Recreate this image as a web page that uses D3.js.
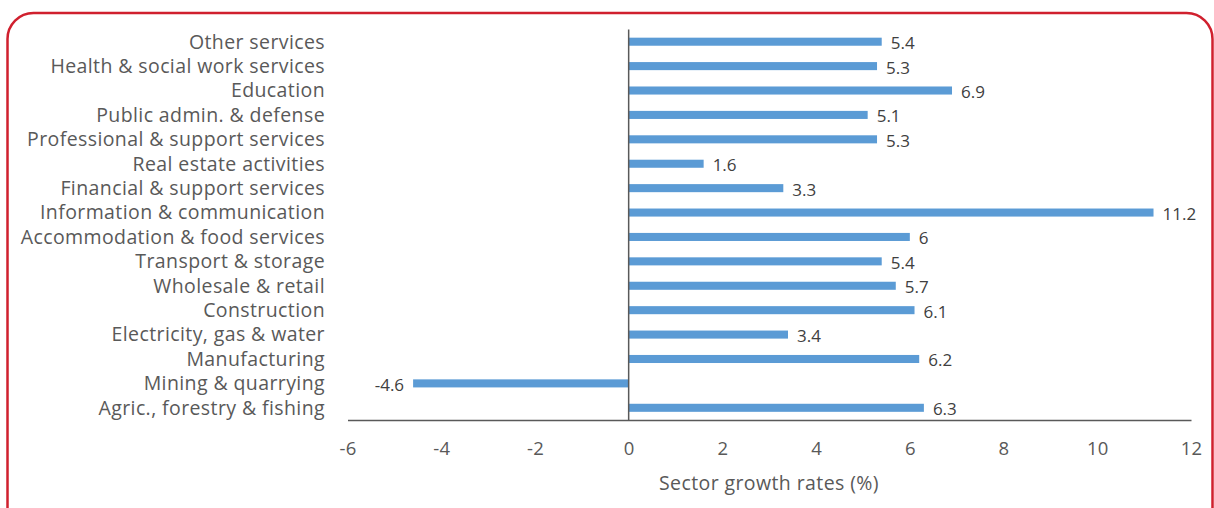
<!DOCTYPE html>
<html><head><meta charset="utf-8">
<script src="https://cdn.jsdelivr.net/npm/d3@7"></script>
<style>html,body{margin:0;padding:0;background:#fff;}svg{display:block;}</style>
</head><body>
<svg id="c" width="1214" height="508"></svg>
<script>
const categories = ["Other services","Health & social work services","Education","Public admin. & defense","Professional & support services","Real estate activities","Financial & support services","Information & communication","Accommodation & food services","Transport & storage","Wholesale & retail","Construction","Electricity, gas & water","Manufacturing","Mining & quarrying","Agric., forestry & fishing"];
const values = [5.4,5.3,6.9,5.1,5.3,1.6,3.3,11.2,6,5.4,5.7,6.1,3.4,6.2,-4.6,6.3];
const xTicks = [-6,-4,-2,0,2,4,6,8,10,12];
const xTitle = "Sector growth rates (%)";

const svg = d3.select("#c");
const font = "'Open Sans', sans-serif";
svg.append("rect").attr("x",7.5).attr("y",13).attr("width",1205).attr("height",520)
  .attr("rx",26).attr("ry",26).attr("fill","none").attr("stroke","#d0202e").attr("stroke-width",2.5);

const x = d3.scaleLinear().domain([-6,12]).range([347.5,1191]);
const y = d3.scaleBand().domain(categories).range([29.5,420]).paddingInner(0.67).paddingOuter(0.335);

const g = svg.append("g");
g.selectAll("rect.bar").data(categories).join("rect").attr("class","bar")
  .attr("x",(d,i)=>x(Math.min(0,values[i])))
  .attr("width",(d,i)=>Math.abs(x(values[i])-x(0)))
  .attr("y",d=>y(d)).attr("height",y.bandwidth())
  .attr("fill","#5b9bd5");

// x axis
const xa = svg.append("g").attr("transform","translate(0,420)")
  .call(d3.axisBottom(x).tickValues(xTicks).tickSize(0).tickPadding(22).tickFormat(d=>String(d)));
xa.select(".domain").attr("stroke","#595959").attr("stroke-width",1.5);
xa.selectAll("text").attr("fill","#595959").style("font-family",font).style("font-size","18.5px").style("letter-spacing","0.3px");

// zero line
svg.append("line").attr("x1",x(0)).attr("x2",x(0)).attr("y1",29.5).attr("y2",420)
  .attr("stroke","#595959").attr("stroke-width",1.5);

// category labels
svg.selectAll("text.cat").data(categories).join("text").attr("class","cat")
  .attr("x",325).attr("y",d=>y(d)+y.bandwidth()/2).attr("dy","0.35em")
  .attr("text-anchor","end").attr("fill","#595959")
  .style("font-family",font).style("font-size","19.5px").style("letter-spacing","0.4px").text(d=>d);

// value labels
svg.selectAll("text.val").data(categories).join("text").attr("class","val")
  .attr("x",(d,i)=> values[i]<0 ? x(values[i])-9 : x(values[i])+9)
  .attr("y",d=>y(d)+y.bandwidth()/2+1.5).attr("dy","0.35em")
  .attr("text-anchor",(d,i)=>values[i]<0?"end":"start").attr("fill","#404040")
  .style("font-family",font).style("font-size","17px").text((d,i)=>values[i]);

svg.append("text").attr("x",769).attr("y",483).attr("dy","0.35em").attr("text-anchor","middle")
  .attr("fill","#595959").style("font-family",font).style("font-size","19.5px").style("letter-spacing","0.4px").text(xTitle);
</script>
</body></html>
